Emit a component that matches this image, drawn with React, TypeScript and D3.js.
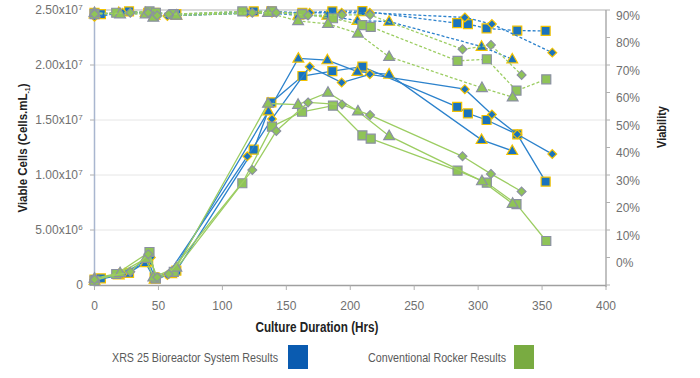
import React from 'react';
import * as d3 from 'd3';

type P = [number, number];

// Viable cells (x10^6 cells/mL) vs culture hours
const xrsSquareCells: P[] = [[0,0.5],[5,0.6],[27,1.1],[42,2.2],[47,0.7],[64,1.3],[124.5,12.3],[138.3,16.6],[162.6,19.0],[186,19.45],[209.5,19.85],[283.6,16.2],[292,15.6],[306.6,15.0],[330.6,13.7],[352.8,9.4]];
const xrsTriangleCells: P[] = [[0,0.4],[19,0.9],[40,2.0],[47,0.5],[60,1.0],[136,15.8],[159.4,20.6],[182.1,20.45],[205.6,19.4],[230.4,19.15],[302.7,13.2],[326.7,12.2]];
const xrsDiamondCells: P[] = [[0,0.5],[22,1.0],[44,2.5],[48,0.6],[57,0.9],[119.5,11.7],[138.8,15.1],[168.3,19.85],[193.3,18.4],[215.3,19.15],[289.6,17.8],[310.8,15.5],[330.6,13.7],[358,11.9]];
const rockSquareCells: P[] = [[0,0.4],[17,1.0],[43,3.0],[48,0.6],[62,1.2],[115.6,9.25],[138.8,14.4],[162.3,15.75],[186.5,16.3],[209.5,13.6],[216,13.3],[283.9,10.4],[306.8,9.3],[330,7.35],[353.3,4.0]];
const rockTriangleCells: P[] = [[0,0.6],[20,1.1],[40,2.4],[46,0.7],[64,1.6],[135.7,16.5],[159.2,16.4],[182.6,17.5],[206,15.8],[230.4,13.55],[303,9.45],[327,7.4]];
const rockDiamondCells: P[] = [[0,0.5],[28,1.2],[42,2.8],[49,0.7],[58,1.0],[123.4,10.45],[142.2,14.0],[167,16.6],[193.6,16.4],[215.5,15.45],[287.8,11.7],[310,10.1],[334,8.5]];

// Viability (%) vs culture hours
const xrsSquareViab: P[] = [[0,89],[5,88.5],[27,89.5],[42,89],[47,89],[64,88.5],[124.5,89.5],[138.3,89.5],[162.6,89],[186,89.5],[209.5,89.6],[283.6,85.2],[292,84.9],[306.6,83.3],[330.6,82.5],[352.8,82.4]];
const xrsTriangleViab: P[] = [[0,88.5],[19,89],[40,89],[47,88],[64,88],[136,89],[159.4,88],[182.1,88],[205.6,86.1],[230.4,85.8],[302.7,76.7],[326.7,72.1]];
const xrsDiamondViab: P[] = [[0,87.5],[22,89],[44,89],[48,88],[57,87.8],[119.5,89],[138.8,89],[168.3,89],[193.3,89],[215.3,89],[289.6,87.3],[310.8,84.9],[358,74.5]];
const rockSquareViab: P[] = [[0,88.5],[17,89],[43,89.5],[48,89],[62,88.5],[115.6,89.5],[138.8,89.5],[162.3,88.5],[186.5,87],[209.5,84.5],[216,83.9],[283.9,71.5],[306.8,72.1],[330,60.7],[353.3,64.8]];
const rockTriangleViab: P[] = [[0,89],[20,88.5],[40,88.5],[46,87.3],[64,88],[135.7,89],[159.2,86],[182.6,85],[206,81.5],[230.4,73.0],[303,61.7],[327,58.3]];
const rockDiamondViab: P[] = [[0,88.5],[28,89],[42,89],[49,88],[58,88.5],[123.4,89],[142.2,89],[167,88],[193.6,88.2],[215.5,88.2],[287.8,75.7],[310,77.3],[334,66.4]];

const xTicks = [0, 50, 100, 150, 200, 250, 300, 350, 400];
const leftTicks = [0, 5, 10, 15, 20, 25];
const leftTickMantissa = ['0', '5.00x10', '1.00x10', '1.50x10', '2.00x10', '2.50x10'];
const leftTickExponent = ['', '6', '7', '7', '7', '7'];
const rightTicks = [-10, 0, 10, 20, 30, 40, 50, 60, 70, 80, 90];
const legendLabels = ['XRS 25 Bioreactor System Results', 'Conventional Rocker Results'];

const x = d3.scaleLinear().domain([0, 400]).range([94.5, 606]);
const yL = d3.scaleLinear().domain([0, 25]).range([285, 10]);
const yR = d3.scaleLinear().domain([-10, 90]).range([285, 10]);

const BLUE = '#1a73bd';
const BLUE_LINE = '#2c82cc';
const YELLOW = '#f2c200';
const GREEN = '#8fc457';
const GREEN_LINE = '#9ccd62';
const GRAY_EDGE = '#8b90a2';

const shapes: Record<string, string> = {
  square: 'M-4.5,-4.5H4.5V4.5H-4.5Z',
  triangle: 'M0,-5.8L5.4,3.7H-5.4Z',
  diamond: 'M0,-4.4L4.4,0L0,4.4L-4.4,0Z',
};

const FONT = "'Liberation Sans Narrow','Arial Narrow','Liberation Sans',Arial,sans-serif";

function Series({ data, y, color, fill, edge, shape, dashed }: { data: P[]; y: d3.ScaleLinear<number, number>; color: string; fill: string; edge: string; shape: string; dashed: boolean }) {
  const line = d3.line<P>().x(d => x(d[0])).y(d => y(d[1]));
  return (
    <g>
      <path d={line(data) || ''} fill="none" stroke={color} strokeWidth={1.3} strokeDasharray={dashed ? '3,2' : undefined} />
      {data.map((d, i) => (
        <path key={i} d={shapes[shape]} transform={`translate(${x(d[0])},${y(d[1])})`} fill={fill} stroke={edge} strokeWidth={1.2} />
      ))}
    </g>
  );
}

export default function App() {
  const blue = { color: BLUE_LINE, fill: BLUE, edge: YELLOW };
  const green = { color: GREEN_LINE, fill: GREEN, edge: GRAY_EDGE };
  return (
    <svg width={700} height={378} style={{ position: 'absolute', left: 0, top: 0, background: '#fff' }} fontFamily={FONT}>
      {/* gridlines */}
      {leftTicks.slice(1, 5).map(t => (
        <line key={t} x1={94.5} x2={606} y1={yL(t)} y2={yL(t)} stroke="#e6e6e6" strokeWidth={1} />
      ))}
      {/* frame */}
      <line x1={94.5} x2={606} y1={10} y2={10} stroke="#b4b4b4" strokeWidth={1.2} />
      <line x1={94.5} x2={606} y1={285.5} y2={285.5} stroke="#a0a0a0" strokeWidth={1.3} />
      <line x1={606} x2={606} y1={10} y2={287} stroke="#a0a0a0" strokeWidth={1.3} />
      <line x1={94.5} x2={94.5} y1={10} y2={287} stroke="#a9b6cf" strokeWidth={1.5} />
      {/* left ticks */}
      {leftTicks.map((t, i) => (
        <g key={t}>
          <line x1={90} x2={94.5} y1={yL(t)} y2={yL(t)} stroke="#b0b0b0" />
          <text x={leftTickExponent[i] ? 78 : 83} y={yL(t) + 4} fontSize={12} fill="#707070" textAnchor="end">
            {leftTickMantissa[i]}
          </text>
          {leftTickExponent[i] && (
            <text x={78.2} y={yL(t) - 0.5} fontSize={8} fill="#707070">{leftTickExponent[i]}</text>
          )}
        </g>
      ))}
      {/* right ticks */}
      {rightTicks.map(t => (
        <g key={t}>
          <line x1={606} x2={610} y1={yR(t)} y2={yR(t)} stroke="#b0b0b0" />
          {t >= 0 && (
            <text x={616} y={yR(t) + 9.5} fontSize={12} fill="#707070">{`${t}%`}</text>
          )}
        </g>
      ))}
      {/* x ticks */}
      {xTicks.map(t => (
        <g key={t}>
          <line x1={x(t)} x2={x(t)} y1={285.5} y2={290} stroke="#b0b0b0" />
          <text x={x(t)} y={310} fontSize={12} fill="#707070" textAnchor="middle">{t}</text>
        </g>
      ))}
      {/* axis titles */}
      <text x={317} y={332} fontSize={14} fontWeight="bold" fill="#222" textAnchor="middle" textLength={123} lengthAdjust="spacingAndGlyphs">Culture Duration (Hrs)</text>
      <text transform="translate(27,148) rotate(-90)" fontSize={13} fontWeight="bold" fill="#222" textAnchor="middle" textLength={129} lengthAdjust="spacingAndGlyphs">
        Viable Cells (Cells.mL<tspan fontSize={8} dy={3}>-1</tspan><tspan dy={-3}>)</tspan>
      </text>
      <text transform="translate(666,127) rotate(-90)" fontSize={13} fontWeight="bold" fill="#222" textAnchor="middle" textLength={42} lengthAdjust="spacingAndGlyphs">Viability</text>

      {/* XRS series */}
      <Series data={xrsSquareViab} y={yR} {...blue} shape="square" dashed />
      <Series data={xrsTriangleViab} y={yR} {...blue} shape="triangle" dashed />
      <Series data={xrsDiamondViab} y={yR} {...blue} shape="diamond" dashed />
      <Series data={xrsSquareCells} y={yL} {...blue} shape="square" dashed={false} />
      <Series data={xrsTriangleCells} y={yL} {...blue} shape="triangle" dashed={false} />
      <Series data={xrsDiamondCells} y={yL} {...blue} shape="diamond" dashed={false} />
      {/* Rocker series */}
      <Series data={rockSquareViab} y={yR} {...green} shape="square" dashed />
      <Series data={rockTriangleViab} y={yR} {...green} shape="triangle" dashed />
      <Series data={rockDiamondViab} y={yR} {...green} shape="diamond" dashed />
      <Series data={rockSquareCells} y={yL} {...green} shape="square" dashed={false} />
      <Series data={rockTriangleCells} y={yL} {...green} shape="triangle" dashed={false} />
      <Series data={rockDiamondCells} y={yL} {...green} shape="diamond" dashed={false} />

      {/* legend */}
      <text x={112} y={362} fontSize={13} fill="#5a5a5a" textLength={166} lengthAdjust="spacingAndGlyphs">{legendLabels[0]}</text>
      <rect x={288} y={345} width={20} height={24} fill="#0a5bb0" />
      <text x={368} y={362} fontSize={13} fill="#5a5a5a" textLength={138} lengthAdjust="spacingAndGlyphs">{legendLabels[1]}</text>
      <rect x={514} y={345} width={20} height={24} fill="#79ab41" />
    </svg>
  );
}
